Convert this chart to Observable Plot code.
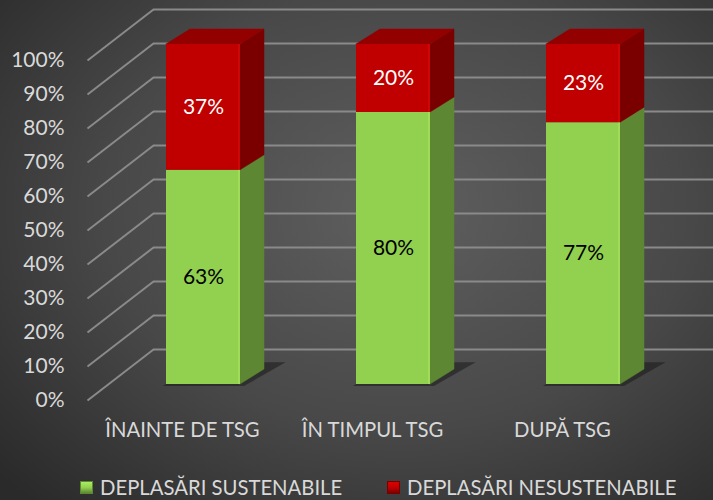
<!DOCTYPE html>
<html>
<head>
<meta charset="utf-8">
<script src="https://cdn.jsdelivr.net/npm/d3@7"></script>
<script src="https://cdn.jsdelivr.net/npm/@observablehq/plot@0.6"></script>
<style>
  html, body { margin: 0; padding: 0; width: 713px; height: 500px; overflow: hidden; }
  body {
    background: radial-gradient(ellipse 75% 80% at 56% 42%, #5f5f5f 0%, #484848 55%, #2a2a2a 100%);
    font-family: Lato, "Open Sans", sans-serif;
  }
  #chart svg { background: transparent !important; display: block; }
  .legend { position: relative; height: 40px; color: #d9d9d9; font-size: 20.3px; }
  .legend .item { position: absolute; top: 15px; display: flex; align-items: center; white-space: nowrap; }
  .legend .sw { width: 13px; height: 13px; margin-right: 7px; box-sizing: border-box; }
</style>
</head>
<body>
<div id="chart"></div>
<div class="legend" id="legend"></div>
<script>
// ---- data ----
const categories = ["ÎNAINTE DE TSG", "ÎN TIMPUL TSG", "DUPĂ TSG"];
const seriesNames = ["DEPLASĂRI SUSTENABILE", "DEPLASĂRI NESUSTENABILE"];
const sustenabile = [63, 80, 77];
const nesustenabile = [37, 20, 23];
const yTicks = [0, 10, 20, 30, 40, 50, 60, 70, 80, 90, 100];

// ---- styling ----
const colors = {
  front: ["#92d050", "#c00000"],
  side: ["#5e8733", "#7a0000"],
  top: ["#7fb545", "#930000"],
  label: ["#000000", "#ffffff"]
};

// ---- layout / scale configuration ----
const W = 713, H = 460;
const mL = 108, mR = 35, mT = 44, mB = 76;
const xDomain = [0, categories.length];
const yDomain = [0, 100];
const pxPerX = (W - mL - mR) / (xDomain[1] - xDomain[0]);
const pxPerY = (H - mT - mB) / (yDomain[1] - yDomain[0]);
const px2x = p => p / pxPerX;       // horizontal pixel offset -> x units
const px2y = p => -p / pxPerY;      // vertical pixel offset (down +) -> y units

const barHalf = px2x(37);
const barDepth = {dx: px2x(24), dy: px2y(-15)};
const wallFront = {dx: -21, dy: 16};
const wallBack = {dx: 45, dy: -35};

// stacked segments
const segs = [];
categories.forEach((c, i) => {
  const vals = [sustenabile[i], nesustenabile[i]];
  let lo = 0;
  vals.forEach((v, s) => {
    segs.push({cat: c, i, s, lo, hi: lo + v, v, cx: i + 0.5, top: s === vals.length - 1});
    lo += v;
  });
});

// side faces: two points per segment
const sidePts = segs.flatMap(d => [
  {key: d.cat + d.s, s: d.s, x: d.cx + barHalf, y1: d.lo, y2: d.hi},
  {key: d.cat + d.s, s: d.s, x: d.cx + barHalf + barDepth.dx, y1: d.lo + barDepth.dy, y2: d.hi + barDepth.dy}
]);
// top faces
const topPts = segs.filter(d => d.top).flatMap(d => [
  {key: d.cat, s: d.s, y: d.hi, x1: d.cx - barHalf, x2: d.cx + barHalf},
  {key: d.cat, s: d.s, y: d.hi + barDepth.dy, x1: d.cx - barHalf + barDepth.dx, x2: d.cx + barHalf + barDepth.dx}
]);
// floor shadows
const shadowPts = categories.flatMap((c, i) => [
  {key: c, y: px2y(2), x1: i + 0.5 - barHalf - px2x(3), x2: i + 0.5 + barHalf + px2x(4)},
  {key: c, y: barDepth.dy * 1.45, x1: i + 0.5 - barHalf + barDepth.dx * 1.3, x2: i + 0.5 + barHalf + barDepth.dx * 1.9}
]);

const gridColor = "#8a8a8a";

const plot = Plot.plot({
  width: W, height: H,
  marginLeft: mL, marginRight: mR, marginTop: mT, marginBottom: mB,
  x: {domain: xDomain, axis: null},
  y: {domain: yDomain, axis: null},
  style: {background: "transparent", fontFamily: "Lato, 'Open Sans', sans-serif", overflow: "visible"},
  marks: [
    // back wall gridlines
    Plot.ruleY(yTicks, {y: d => d, dx: wallBack.dx, dy: wallBack.dy, stroke: gridColor, strokeWidth: 2}),
    // side wall diagonals
    Plot.link(yTicks, {
      x1: px2x(wallFront.dx), y1: d => d + px2y(wallFront.dy),
      x2: px2x(wallBack.dx), y2: d => d + px2y(wallBack.dy),
      stroke: gridColor, strokeWidth: 2
    }),
    // shadows
    Plot.areaX(shadowPts, {y: "y", x1: "x1", x2: "x2", z: "key", fill: "#1a1a1a", fillOpacity: 0.55}),
    // side faces
    Plot.areaY(sidePts, {x: "x", y1: "y1", y2: "y2", z: "key", fill: d => colors.side[d.s], stroke: d => colors.side[d.s], strokeWidth: 0.5}),
    // top faces
    Plot.areaX(topPts, {y: "y", x1: "x1", x2: "x2", z: "key", fill: d => colors.top[d.s], stroke: d => colors.top[d.s], strokeWidth: 0.5}),
    // front faces
    Plot.rectY(segs, {x1: d => d.cx - barHalf, x2: d => d.cx + barHalf, y1: "lo", y2: "hi", fill: d => colors.front[d.s], inset: 0}),
    // front bevel highlight at right edge
    Plot.ruleX(segs, {x: d => d.cx + barHalf, y1: "lo", y2: "hi", dx: -1.5, stroke: d => d.s === 0 ? "#a4e05e" : "#d00a0a", strokeWidth: 1.5}),
    // value labels
    Plot.text(segs, {x: "cx", y: d => (d.lo + d.hi) / 2, text: d => d.v + "%", fill: d => colors.label[d.s], fontSize: 21}),
    // y tick labels
    Plot.text(yTicks, {y: d => d, frameAnchor: "left", dx: -44, dy: wallFront.dy, textAnchor: "end", text: d => d + "%", fill: "#d9d9d9", fontSize: 21}),
    // category labels
    Plot.text(categories, {x: (d, i) => i + 0.5 + px2x(wallFront.dx), y: yDomain[0], dy: 46, text: d => d, fill: "#d9d9d9", fontSize: 20.3})
  ]
});
document.getElementById("chart").appendChild(plot);

// legend
const legend = document.getElementById("legend");
const legendX = [80, 387];
seriesNames.forEach((name, s) => {
  const item = document.createElement("div");
  item.className = "item";
  item.style.left = legendX[s] + "px";
  const sw = document.createElement("span");
  sw.className = "sw";
  sw.style.background = `linear-gradient(180deg, ${d3.color(colors.front[s]).brighter(0.4)} 0%, ${colors.front[s]} 50%, ${colors.side[s]} 100%)`;
  sw.style.border = `1px solid ${colors.side[s]}`;
  const t = document.createElement("span");
  t.textContent = name;
  item.appendChild(sw);
  item.appendChild(t);
  legend.appendChild(item);
});
</script>
</body>
</html>
